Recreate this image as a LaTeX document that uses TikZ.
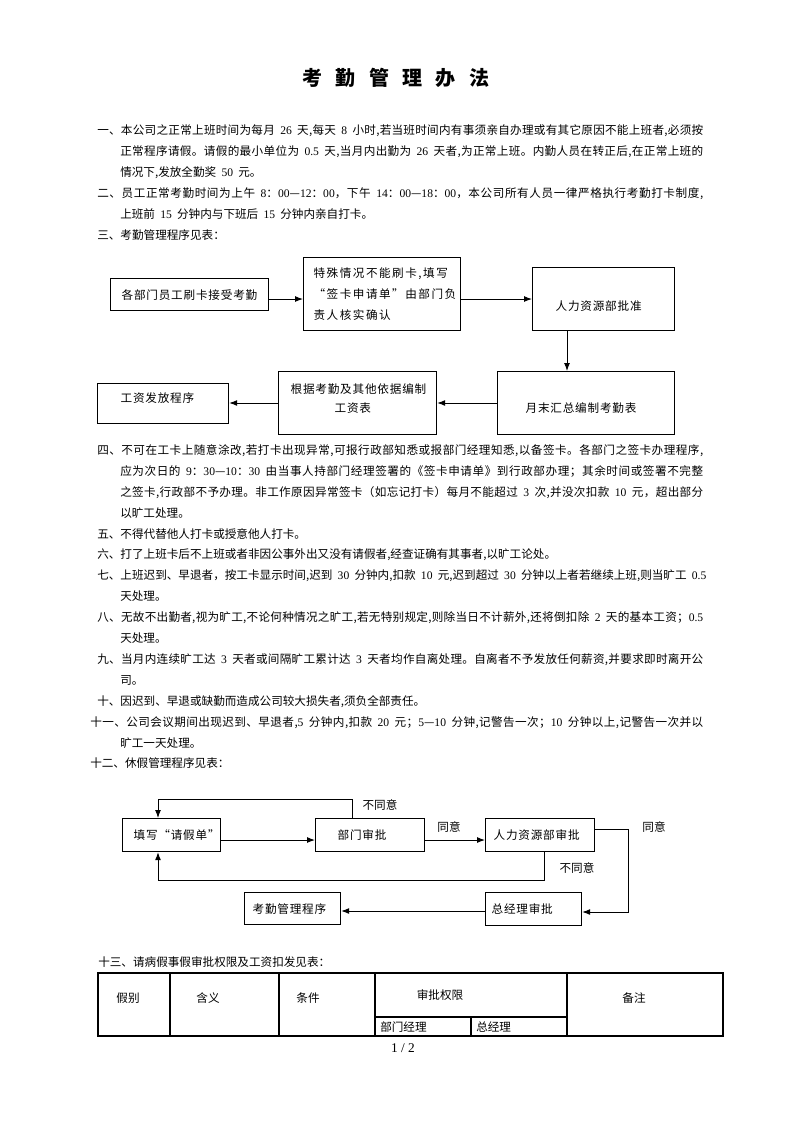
\documentclass[tikz,border=0pt]{standalone}
\usepackage{fontspec}
\setmainfont{Noto Sans CJK SC}
\newfontfamily\numfont{Liberation Serif}
\usetikzlibrary{arrows.meta,positioning}
% glue between CJK characters, used by \jl to justify a line
\chardef\cjkcls=7
\newcount\cjkc
\newcommand{\setcjk}[2]{\cjkc=#1 \loop\XeTeXcharclass\cjkc=\cjkcls\relax\ifnum\cjkc<#2 \advance\cjkc by 1 \repeat}
\setcjk{"4E00}{"9FFF}
\setcjk{"3000}{"303F}
\setcjk{"FF00}{"FFEF}
\setcjk{"2014}{"2014}
\setcjk{"201C}{"201D}
\XeTeXinterchartoks\cjkcls\cjkcls={\hskip 0pt plus 1pt\relax}
\XeTeXinterchartoks\cjkcls 0={\hskip 0pt plus 1pt\relax}
\XeTeXinterchartoks 0\cjkcls={\hskip 0pt plus 1pt\relax}
\newcommand{\bodyfont}{\fontsize{8.7}{15.75}\selectfont\spaceskip=.45em plus .5pt\relax}
\newcommand{\boxfont}{\bodyfont\addfontfeature{LetterSpace=7}}
\newcommand{\titlefont}{\bfseries\fontsize{15}{18}\selectfont\addfontfeature{LetterSpace=67}}
\newcommand{\nm}[1]{{\numfont #1}}
\newcommand{\jl}[2]{\hbox to #1{\XeTeXinterchartokenstate=1 #2}}
\tikzset{
  txt/.style={anchor=west,inner sep=0pt,font=\bodyfont,text height=7.6pt,text depth=1pt},
  lbl/.style={txt,anchor=center},
  box/.style={draw,line width=.9pt,anchor=north west,inner ysep=0pt,align=left,font=\boxfont},
  arr/.style={-{Latex[length=6pt,width=4.5pt]},line width=.75pt},
  tbl/.style={line width=.8pt}
}
\begin{document}
\begin{tikzpicture}[x=0.75pt,y=-0.75pt]
    \useasboundingbox (0,0) rectangle (793,1122);
    \node[anchor=west,inner sep=0pt,font=\titlefont,text height=13.2pt,text depth=1.8pt] (title) at (302,78) {考勤管理办法};

    % rules 1-3
    \node[txt] (r1a) at (97,130) {\jl{454.5pt}{一、本公司之正常上班时间为每月 \nm{26} 天,每天 \nm{8} 小时,若当班时间内有事须亲自办理或有其它原因不能上班者,必须按}};
    \node[txt] (r1b) at (120,151) {\jl{437.25pt}{正常程序请假。请假的最小单位为 \nm{0.5} 天,当月内出勤为 \nm{26} 天者,为正常上班。内勤人员在转正后,在正常上班的}};
    \node[txt] (r1c) at (120,172) {情况下,发放全勤奖 \nm{50} 元。};
    \node[txt] (r2a) at (97,193) {\jl{454.5pt}{二、员工正常考勤时间为上午 \nm{8}：\nm{00}—\nm{12}：\nm{00}，下午 \nm{14}：\nm{00}—\nm{18}：\nm{00}，本公司所有人员一律严格执行考勤打卡制度,}};
    \node[txt] (r2b) at (120,214) {上班前 \nm{15} 分钟内与下班后 \nm{15} 分钟内亲自打卡。};
    \node[txt] (r3) at (97,235) {三、考勤管理程序见表：};

    % attendance flow
    \node[box,minimum height=24pt,inner xsep=8.25pt,text width=102pt,text height=7.6pt,text depth=1pt] (swipe) at (110,278) {各部门员工刷卡接受考勤};
    \node[box,minimum height=54.75pt,inner xsep=7.5pt,text width=102.75pt,font=\boxfont\addfontfeature{LetterSpace=13}] (special) at (303,257) {\mbox{特殊情况不能刷卡,填写}\\\mbox{“签卡申请单”由部门负}\\\mbox{责人核实确认}};
    \node[box,minimum height=47.25pt,inner xsep=17.25pt,text width=72pt,text height=17.4pt,text depth=1pt] (hrok) at (532,267) {人力资源部批准};
    \node[box,minimum height=47.25pt,inner xsep=21pt,text width=90.75pt,text height=14.4pt,text depth=1pt] (sum) at (497,371) {月末汇总编制考勤表};
    \node[box,minimum height=47.25pt,inner xsep=9pt,text width=100.5pt,font=\boxfont\fontsize{8.7}{14.25}\selectfont,text height=7.6pt,text depth=22.75pt] (wage) at (278,371) {\mbox{根据考勤及其他依据编制}\\\hspace{33pt}工资表};
    \node[box,minimum height=30pt,inner xsep=17.25pt,text width=63.75pt,text height=7.6pt,text depth=10pt] (pay) at (97,383) {工资发放程序};
    \draw[arr] (swipe.east |- 0,299) -- (special.west |- 0,299);
    \draw[arr] (special.east |- 0,299) -- (hrok.west |- 0,299);
    \draw[arr] (hrok.south -| 567,0) -- (sum.north -| 567,0);
    \draw[arr] (sum.west |- 0,403) -- (wage.east |- 0,403);
    \draw[arr] (wage.west |- 0,403) -- (pay.east |- 0,403);

    % rules 4-12
    \node[txt] (r4a) at (97,450) {\jl{454.5pt}{四、不可在工卡上随意涂改,若打卡出现异常,可报行政部知悉或报部门经理知悉,以备签卡。各部门之签卡办理程序,}};
    \node[txt] (r4b) at (120,470.9) {\jl{437.25pt}{应为次日的 \nm{9}：\nm{30}—\nm{10}：\nm{30} 由当事人持部门经理签署的《签卡申请单》到行政部办理；其余时间或签署不完整}};
    \node[txt] (r4c) at (120,491.8) {\jl{437.25pt}{之签卡,行政部不予办理。非工作原因异常签卡（如忘记打卡）每月不能超过 \nm{3} 次,并没次扣款 \nm{10} 元，超出部分}};
    \node[txt] (r4d) at (120,512.7) {以旷工处理。};
    \node[txt] (r5) at (97,533.6) {五、不得代替他人打卡或授意他人打卡。};
    \node[txt] (r6) at (97,554.5) {六、打了上班卡后不上班或者非因公事外出又没有请假者,经查证确有其事者,以旷工论处。};
    \node[txt] (r7a) at (97,575.4) {\jl{454.5pt}{七、上班迟到、早退者，按工卡显示时间,迟到 \nm{30} 分钟内,扣款 \nm{10} 元,迟到超过 \nm{30} 分钟以上者若继续上班,则当旷工 \nm{0.5}}};
    \node[txt] (r7b) at (120,596.3) {天处理。};
    \node[txt] (r8a) at (97,617.2) {\jl{454.5pt}{八、无故不出勤者,视为旷工,不论何种情况之旷工,若无特别规定,则除当日不计薪外,还将倒扣除 \nm{2} 天的基本工资；\nm{0.5}}};
    \node[txt] (r8b) at (120,638.1) {天处理。};
    \node[txt] (r9a) at (97,659) {\jl{454.5pt}{九、当月内连续旷工达 \nm{3} 天者或间隔旷工累计达 \nm{3} 天者均作自离处理。自离者不予发放任何薪资,并要求即时离开公}};
    \node[txt] (r9b) at (120,679.9) {司。};
    \node[txt] (r10) at (97,700.8) {十、因迟到、早退或缺勤而造成公司较大损失者,须负全部责任。};
    \node[txt] (r11a) at (90,721.7) {\jl{459.75pt}{十一、公司会议期间出现迟到、早退者,\nm{5} 分钟内,扣款 \nm{20} 元；\nm{5}—\nm{10} 分钟,记警告一次；\nm{10} 分钟以上,记警告一次并以}};
    \node[txt] (r11b) at (120,742.6) {旷工一天处理。};
    \node[txt] (r12) at (90,763.5) {十二、休假管理程序见表：};

    % leave flow
    \node[box,minimum height=24.75pt,inner xsep=8.25pt,text width=57pt,text height=7.6pt,text depth=1pt] (fill) at (122,818) {\mbox{填写“请假单”}};
    \node[box,minimum height=24.75pt,inner xsep=16.5pt,text width=48.75pt,text height=7.6pt,text depth=1pt] (dept) at (315,818) {部门审批};
    \node[box,minimum height=24.75pt,inner xsep=6pt,text width=69.75pt,text height=7.6pt,text depth=1pt] (hr) at (485,818) {\mbox{人力资源部审批}};
    \node[box,minimum height=24.75pt,inner xsep=4.5pt,text width=63pt,text height=7.6pt,text depth=1pt] (gm) at (485,892) {\mbox{总经理审批}};
    \node[box,minimum height=24pt,inner xsep=6pt,text width=60pt,text height=7.6pt,text depth=1pt] (att) at (244,892) {\mbox{考勤管理程序}};
    \coordinate (topL) at (158,799);
    \coordinate (lowL) at (158,880);
    \coordinate (rgt) at (628,912);
    \draw[arr] (fill.east |- 0,840) -- (dept.west |- 0,840);
    \draw[arr] (dept.east |- 0,840) -- (hr.west |- 0,840);
    \draw[arr] (dept.north -| 352,0) |- (topL) -- (topL |- fill.north);
    \draw[arr] (hr.south -| 544,0) |- (lowL) -- (lowL |- fill.south);
    \draw[arr] (hr.east |- 0,829) -| (rgt) -- (gm.east |- rgt);
    \draw[arr] (gm.west |- 0,911) -- (att.east |- 0,911);
    \node[lbl] (ok1) at (449,827) {同意};
    \node[lbl] (ok2) at (654,827) {同意};
    \node[lbl] (no1) at (380,805) {不同意};
    \node[lbl] (no2) at (577,868) {不同意};

    % rule 13 and table
    \node[txt] (r13) at (98,962) {十三、请病假事假审批权限及工资扣发见表：};
    \draw[tbl] (98,973) rectangle (723,1036);
    \draw[tbl] (170,973) -- (170,1036) (279,973) -- (279,1036) (375,973) -- (375,1036) (567,973) -- (567,1036);
    \draw[tbl] (375,1017) -- (567,1017) (471,1017) -- (471,1036);
    \node[lbl] (c1) at (128,998) {假别};
    \node[lbl] (c2) at (208,998) {含义};
    \node[lbl] (c3) at (308,998) {条件};
    \node[lbl] (c4) at (440,995) {审批权限};
    \node[txt] (c5) at (380,1027) {部门经理};
    \node[txt] (c6) at (476,1027) {总经理};
    \node[lbl] (c7) at (634,998) {备注};
    \node[inner sep=0pt,font=\numfont\fontsize{10}{12}\selectfont] (page) at (403,1048) {1 / 2};
\end{tikzpicture}
\end{document}
